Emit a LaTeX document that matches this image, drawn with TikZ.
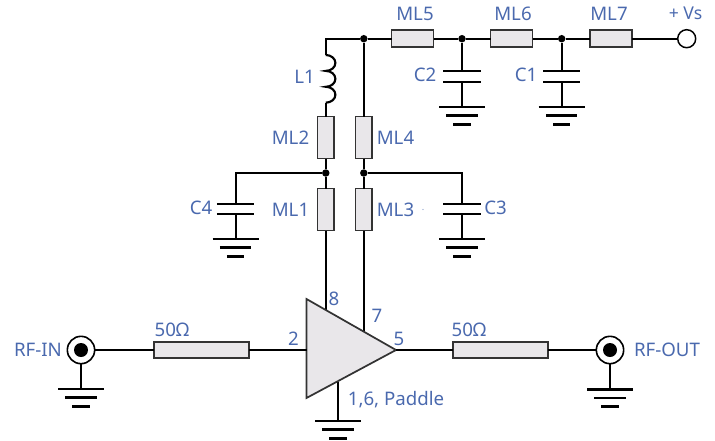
\documentclass[tikz,border=0pt]{standalone}
\usepackage{fontspec}
\setmainfont{Noto Sans}
\definecolor{lbl}{HTML}{4A69AE}
\definecolor{boxfill}{HTML}{E9E7EA}
\definecolor{boxline}{HTML}{333333}
\tikzset{
  wire/.style={line width=1.5pt,black},
  tline/.style={rectangle,draw=boxline,fill=boxfill,line width=1.4pt,inner sep=0pt,outer sep=0pt},
  hbox/.style={tline,minimum width=31.5pt,minimum height=12.5pt},
  vbox/.style={tline,minimum width=12.5pt,minimum height=31.5pt},
  longbox/.style={tline,minimum width=71.5pt,minimum height=12.5pt},
  dot/.style={circle,fill=black,inner sep=0pt,minimum size=5.6pt},
  conn/.style={circle,draw=black,fill=white,line width=1.2pt,inner sep=0pt,minimum size=20.5pt,outer sep=0pt},
  connc/.style={circle,fill=black,inner sep=0pt,minimum size=10.5pt},
  openc/.style={circle,draw=black,fill=white,line width=1.1pt,inner sep=0pt,minimum size=13.5pt,outer sep=0pt},
  lab/.style={text=lbl,font=\fontsize{14}{16}\selectfont,inner sep=0pt,outer sep=0pt},
  bar/.style={line width=1.9pt,black},
  plate/.style={line width=1.4pt,black},
}
\newcommand{\gndsym}[1]{%
  \draw[bar] ([xshift=-17.25pt]#1) -- ([xshift=17.25pt]#1);
  \draw[bar] ([xshift=-11.75pt,yshift=-6.5pt]#1) -- ([xshift=11.75pt,yshift=-6.5pt]#1);
  \draw[bar] ([xshift=-6.5pt,yshift=-13pt]#1) -- ([xshift=6.5pt,yshift=-13pt]#1);
}
\newcommand{\capsym}[2]{%
  \draw[plate] ([xshift=-14pt]#1) -- ([xshift=14pt]#1);
  \draw[plate] ([xshift=-14pt]#2) -- ([xshift=14pt]#2);
}
\begin{document}
\begin{tikzpicture}[x=0.75pt,y=-0.75pt]
\useasboundingbox (0,0) rectangle (715,440);
\node[hbox] (ML5) at (412.5,38.7) {};
\node[hbox] (ML6) at (511.5,38.7) {};
\node[hbox] (ML7) at (611,38.7) {};
\node[vbox] (ML2) at (325.8,137.5) {};
\node[vbox] (ML4) at (363.8,137.5) {};
\node[vbox] (ML1) at (325.8,209.5) {};
\node[vbox] (ML3) at (363.8,209.5) {};
\node[longbox] (Zin) at (201.5,350) {};
\node[longbox] (Zout) at (500.3,350) {};
\node[dot] (Jt) at (363.8,38.7) {};
\node[dot] (J2) at (462,38.7) {};
\node[dot] (J1) at (561.7,38.7) {};
\node[dot] (Ja) at (325.8,173) {};
\node[dot] (Jb) at (363.8,173) {};
\node[openc] (Vs) at (686.7,38.7) {};
\node[conn] (IN) at (81,350) {};
\node[connc] (INc) at (81,350) {};
\node[conn] (OUT) at (610,350) {};
\node[connc] (OUTc) at (610,350) {};
% amplifier
\coordinate (Ta) at (306.5,299);
\coordinate (Tb) at (306.5,398);
\coordinate (Tc) at (396,350);
\coordinate (Pin2) at (306.5,350);
\coordinate (Pin8) at (325.8,310);
\coordinate (Pin7) at (363.8,331.6);
\coordinate (Pin1) at (338,381.7);
\coordinate (G0) at (338,421);
\draw[wire] (Pin8) -- (ML1.south);
\draw[wire] (Pin7) -- (ML3.south);
\draw[wire] (Pin1) -- (G0);
\draw[fill=boxfill,draw=boxline,line width=1.3pt,line join=miter] (Ta) -- (Tb) -- (Tc) -- cycle;
% inductor
\coordinate (Lt) at (325.8,55);
\coordinate (Lb) at (325.8,102.7);
\draw[wire] (Jt) -- (325.8,38.7) -- (Lt);
\draw[wire,line width=1.6pt] (Lt)
  arc[start angle=90,end angle=-90,x radius=7.2pt,y radius=5.96pt]
  arc[start angle=90,end angle=-90,x radius=7.2pt,y radius=5.96pt]
  arc[start angle=90,end angle=-90,x radius=7.2pt,y radius=5.96pt];
\draw[wire] (Lb) -- (ML2.north);
% wires
\draw[wire] (Jt) -- (ML4.north);
\draw[wire] (Jt) -- (ML5.west);
\draw[wire] (ML5.east) -- (J2);
\draw[wire] (J2) -- (ML6.west);
\draw[wire] (ML6.east) -- (J1);
\draw[wire] (J1) -- (ML7.west);
\draw[wire] (ML7.east) -- (Vs.west);
\draw[wire] (ML2.south) -- (Ja);
\draw[wire] (Ja) -- (ML1.north);
\draw[wire] (ML4.south) -- (Jb);
\draw[wire] (Jb) -- (ML3.north);
\draw[wire] (IN.east) -- (Zin.west);
\draw[wire] (Zin.east) -- (Pin2);
\draw[wire] (Tc) -- (Zout.west);
\draw[wire,line width=2.1pt] (Zout.east) -- (OUT.west);
% C2, C1
\coordinate (C2t) at (462,70.7); \coordinate (C2b) at (462,81.7); \coordinate (G2) at (462,107);
\coordinate (C1t) at (561.7,70.7); \coordinate (C1b) at (561.7,81.7); \coordinate (G1) at (561.7,107);
\draw[wire] (J2) -- (C2t); \draw[wire] (C2b) -- (G2);
\draw[wire] (J1) -- (C1t); \draw[wire] (C1b) -- (G1);
\capsym{C2t}{C2b}
\capsym{C1t}{C1b}
% C4, C3
\coordinate (C4t) at (235.5,203.7); \coordinate (C4b) at (235.5,213.7); \coordinate (G4) at (235.5,239);
\coordinate (C3t) at (462,203.7); \coordinate (C3b) at (462,213.7); \coordinate (G3) at (462,239);
\draw[wire] (Ja) -- (235.5,173) -- (C4t); \draw[wire] (C4b) -- (G4);
\draw[wire] (Jb) -- (462,173) -- (C3t); \draw[wire] (C3b) -- (G3);
\capsym{C4t}{C4b}
\capsym{C3t}{C3b}
% connector grounds
\coordinate (GI) at (81,389); \coordinate (GO) at (610,389.3);
\draw[wire] (IN.south) -- (GI);
\draw[wire] (OUT.south) -- (GO);
\gndsym{G0}\gndsym{G1}\gndsym{G2}\gndsym{G3}\gndsym{G4}\gndsym{GI}\gndsym{GO}
% labels
\node[lab] (tML5) at (415,13.5) {ML5};
\node[lab] (tML6) at (513,13.5) {ML6};
\node[lab] (tML7) at (609,13.5) {ML7};
\node[lab,font=\fontsize{13.2}{15}\selectfont] (tVs) at (685.5,13) {+ Vs};
\node[lab] (tC2) at (425,74.5) {C2};
\node[lab] (tC1) at (526,75) {C1};
\node[lab] (tL1) at (304.5,77) {L1};
\node[lab] (tML2) at (290.5,137.5) {ML2};
\node[lab] (tML4) at (395.5,137.5) {ML4};
\node[lab] (tC4) at (201,207.5) {C4};
\node[lab] (tC3) at (495.5,207.5) {C3};
\node[lab] (tML1) at (290.5,210) {ML1};
\node[lab] (tML3) at (395.5,210) {ML3};
\node[lab,font=\fontsize{7}{8}\selectfont,text=lbl!70] (tdot) at (423,210) {.};
\node[lab] (tIn) at (38,350) {RF-IN};
\node[lab] (tOut) at (667,350) {RF-OUT};
\node[lab] (tZa) at (172,330) {50Ω};
\node[lab] (tZb) at (469,330) {50Ω};
\node[lab] (t2) at (293.5,339) {2};
\node[lab] (t8) at (334,299) {8};
\node[lab] (t7) at (377,316) {7};
\node[lab] (t5) at (399,339) {5};
\node[lab] (tP) at (396,400) {1,6, Paddle};
\end{tikzpicture}
\end{document}
